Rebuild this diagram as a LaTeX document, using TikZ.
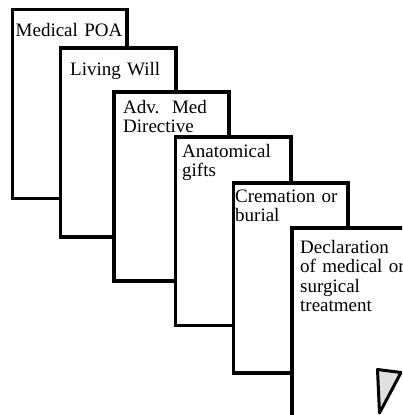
\documentclass[tikz,border=0pt]{standalone}
\usepackage{fontspec}
\setmainfont{Liberation Serif}
\begin{document}
\begin{tikzpicture}[x=1pt,y=-1pt,
  card/.style={draw=black, line width=3.4pt, fill=white, line join=miter},
  lbl/.style={anchor=base west, inner sep=0pt, align=left, text width=160pt,
    font=\fontsize{19}{19.5}\selectfont},
  nib/.style={draw=black, line width=3pt, fill=black!12, line join=round}]
\useasboundingbox (0,0) rectangle (402,415);
\clip (0,0) rectangle (402,415);
% cards, back to front
\draw[card] (12.5,9.5) rectangle (127,198.5);
\node[lbl] (t1) at (15.5,36) {Medical POA};
\draw[card] (60.5,48) rectangle (176,237);
\node[lbl] (t2) at (70,75) {Living Will};
\draw[card] (114,92) rectangle (229,281);
\node[lbl] (t3) at (123,113) {Adv.\ \ Med\\Directive};
\draw[card] (175.5,137) rectangle (291,325.5);
\node[lbl] (t4) at (182,157) {Anatomical\\gifts};
\draw[card] (233.5,183) rectangle (348,373);
\node[lbl] (t5) at (235,202) {Cremation or\\burial};
\draw[card] (292,228) rectangle (430,440);
\node[lbl] (t6) at (300,253) {Declaration\\of medical or\\surgical\\treatment};
% pen nib
\draw[nib] (377.5,369.5) -- (401,372.5) -- (379.5,413) -- cycle;
\end{tikzpicture}
\end{document}
